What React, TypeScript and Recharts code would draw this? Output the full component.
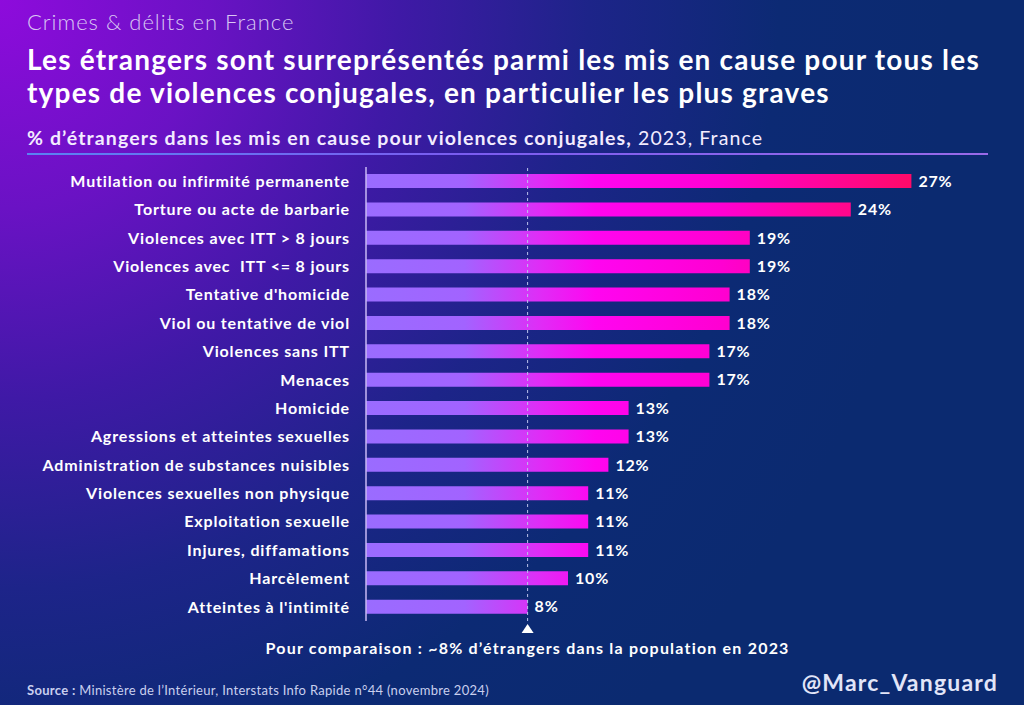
import React from "react";
import { BarChart, Bar, XAxis, YAxis, ReferenceLine, LabelList } from "recharts";

const categories = [
  "Mutilation ou infirmité permanente",
  "Torture ou acte de barbarie",
  "Violences avec ITT > 8 jours",
  "Violences avec  ITT <= 8 jours",
  "Tentative d'homicide",
  "Viol ou tentative de viol",
  "Violences sans ITT",
  "Menaces",
  "Homicide",
  "Agressions et atteintes sexuelles",
  "Administration de substances nuisibles",
  "Violences sexuelles non physique",
  "Exploitation sexuelle",
  "Injures, diffamations",
  "Harcèlement",
  "Atteintes à l'intimité",
];
const values = [27, 24, 19, 19, 18, 18, 17, 17, 13, 13, 12, 11, 11, 11, 10, 8];
const populationShare = 8;
const xDomain = [0, 30];

const data = categories.map((name, i) => ({ name, v: values[i] }));

const FONT = "Lato, 'Open Sans', sans-serif";

function CategoryTick(props: any) {
  const { x, y, payload } = props;
  return (
    <text
      x={x}
      y={y}
      dy="0.36em"
      textAnchor="end"
      fill="#ffffff"
      fontSize={16}
      fontWeight={700}
      fontFamily={FONT}
      style={{ letterSpacing: "0.85px", whiteSpace: "pre" }}
    >
      {payload.value}
    </text>
  );
}

function ValueLabel(props: any) {
  const { x, y, width, height, value } = props;
  return (
    <text
      x={x + width + 7}
      y={y + height / 2}
      dy="0.36em"
      fill="#ffffff"
      fontSize={16}
      fontWeight={700}
      fontFamily={FONT}
      style={{ letterSpacing: "0.8px" }}
    >
      {`${value}%`}
    </text>
  );
}

function PopLabel(props: any) {
  const vb = props.viewBox || {};
  const x = vb.x;
  const yb = (vb.y || 0) + (vb.height || 0);
  return (
    <g>
      <polygon
        points={`${x - 6},${yb + 12} ${x + 6},${yb + 12} ${x},${yb + 3}`}
        fill="#ffffff"
      />
      <text
        x={x}
        y={yb + 33}
        textAnchor="middle"
        fill="#ffffff"
        fontSize={16}
        fontWeight={700}
        fontFamily={FONT}
        style={{ letterSpacing: "1.2px" }}
      >
        Pour comparaison : ~8% d’étrangers dans la population en 2023
      </text>
    </g>
  );
}

export default function App() {
  return (
    <div
      style={{
        position: "absolute",
        left: 0,
        top: 0,
        width: 1024,
        height: 705,
        overflow: "hidden",
        fontFamily: FONT,
        background:
          "radial-gradient(circle 950px at 0px 0px, #8e0bdc 0%, #6a12c4 22%, #3f19a6 42%, #1d2489 62%, #0c2a74 82%, #0b2a70 100%)",
      }}
    >
      <div
        style={{
          position: "absolute",
          left: 27,
          top: 8,
          fontSize: 22,
          fontWeight: 300,
          color: "#d9c7f3",
          lineHeight: "28px",
          letterSpacing: "1px",
          whiteSpace: "nowrap",
        }}
      >
        Crimes &amp; délits en France
      </div>
      <div
        style={{
          position: "absolute",
          left: 27,
          top: 43,
          fontSize: 28,
          fontWeight: 700,
          color: "#ffffff",
          lineHeight: "33px",
          letterSpacing: "1.2px",
          whiteSpace: "nowrap",
        }}
      >
        Les étrangers sont surreprésentés parmi les mis en cause pour tous les
        <br />
        types de violences conjugales, en particulier les plus graves
      </div>
      <div
        style={{
          position: "absolute",
          left: 27,
          top: 126,
          fontSize: 19.5,
          color: "#f3ecff",
          lineHeight: "24px",
          letterSpacing: "1.1px",
          whiteSpace: "nowrap",
        }}
      >
        <span style={{ fontWeight: 700 }}>
          % d’étrangers dans les mis en cause pour violences conjugales,
        </span>
        <span style={{ fontWeight: 400 }}> 2023, France</span>
      </div>
      <div
        style={{
          position: "absolute",
          left: 27,
          top: 153,
          width: 961,
          height: 2,
          background: "linear-gradient(to right, #5a82f2 0%, #7a5cf0 45%, #9a6ae8 100%)",
        }}
      />
      <BarChart
        width={1024}
        height={705}
        layout="vertical"
        data={data}
        margin={{ top: 167, right: 52, bottom: 84, left: 10 }}
        style={{ position: "absolute", left: 0, top: 0 }}
      >
        <defs>
          <linearGradient id="barGrad" gradientUnits="userSpaceOnUse" x1={366} y1={0} x2={912} y2={0}>
            <stop offset="0%" stopColor="#9a6cff" />
            <stop offset="18%" stopColor="#a263ff" />
            <stop offset="32%" stopColor="#e02cf6" />
            <stop offset="42%" stopColor="#ff05f0" />
            <stop offset="65%" stopColor="#ff00d2" />
            <stop offset="100%" stopColor="#ff0a68" />
          </linearGradient>
        </defs>
        <XAxis type="number" domain={xDomain} hide />
        <YAxis
          type="category"
          dataKey="name"
          width={356}
          interval={0}
          tickSize={0}
          tickMargin={16}
          tickLine={false}
          axisLine={{ stroke: "#c8b9f5", strokeWidth: 1.5 }}
          tick={<CategoryTick />}
        />
        <Bar dataKey="v" fill="url(#barGrad)" barSize={14} isAnimationActive={false}>
          <LabelList dataKey="v" content={<ValueLabel />} />
        </Bar>
        <ReferenceLine
          x={populationShare}
          stroke="#b9c0ea"
          strokeDasharray="3 3"
          strokeWidth={1}
          label={<PopLabel />}
        />
      </BarChart>
      <div
        style={{
          position: "absolute",
          left: 27,
          top: 681,
          fontSize: 13,
          color: "#c9cfee",
          lineHeight: "18px",
          letterSpacing: "0.3px",
          whiteSpace: "nowrap",
        }}
      >
        <span style={{ fontWeight: 700 }}>Source :</span> Ministère de l’Intérieur, Interstats Info Rapide n°44 (novembre 2024)
      </div>
      <div
        style={{
          position: "absolute",
          right: 26,
          top: 668,
          fontSize: 23,
          fontWeight: 700,
          color: "#e2e5f8",
          lineHeight: "28px",
          letterSpacing: "1.2px",
          whiteSpace: "nowrap",
        }}
      >
        @Marc_Vanguard
      </div>
    </div>
  );
}
